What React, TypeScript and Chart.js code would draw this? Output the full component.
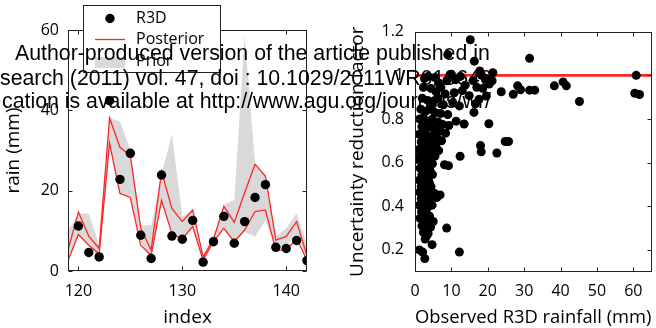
import React, { useEffect, useRef } from 'react';
import { Chart, registerables } from 'chart.js';
Chart.register(...registerables);

// ---------- Left panel data ----------
const indexValues = [119, 120, 121, 122, 123, 124, 125, 126, 127, 128, 129, 130, 131, 132, 133, 134, 135, 136, 137, 138, 139, 140, 141, 142];
const priorUpper = [10, 14.3, 14.3, 6.5, 38.1, 37.2, 30.1, 11.4, 11.4, 24, 34, 13.5, 15.2, 4, 8.6, 16.5, 17.7, 58.6, 26.8, 24, 8.6, 10.6, 14.4, 6.5];
const priorLower = [3.1, 9.3, 6.4, 3.1, 31.8, 19.5, 18.5, 7.2, 3.1, 17.6, 9.7, 8, 10.5, 3, 7.7, 10.6, 7.3, 9.7, 8.5, 12.6, 5.6, 6.5, 9, 3.1];
const posteriorUpper = [5.2, 14.7, 8.7, 5.6, 38.1, 30.8, 28.7, 10.6, 5.2, 24.7, 15.6, 12.3, 15.2, 3.5, 7.9, 16.1, 12.1, 19.5, 26.6, 23.6, 7.7, 8.6, 12.3, 3.8];
const posteriorLower = [2.6, 9.1, 6.4, 4.3, 31.8, 19.3, 18.3, 6.4, 3.9, 17.6, 9.3, 8.0, 11.1, 2.7, 7.3, 10.6, 7.3, 10.2, 14.8, 15.2, 5.2, 5.2, 8.1, 2.7];
const r3dIndex = [120, 121, 122, 123, 124, 125, 126, 127, 128, 129, 130, 131, 132, 133, 134, 135, 136, 137, 138, 139, 140, 141, 142];
const r3dRain = [11.2, 4.6, 3.5, 42.4, 22.8, 29.3, 8.9, 3.1, 23.9, 8.7, 7.9, 12.6, 2.2, 7.3, 13.6, 6.9, 12.3, 18.3, 21.5, 5.9, 5.6, 7.6, 2.6];

const leftXTicks = [120, 130, 140];
const leftYTicks = [0, 20, 40, 60];

// ---------- Right panel data ----------
const rightXTicks = [0, 10, 20, 30, 40, 50, 60];
const rightYTicks = [0.2, 0.4, 0.6, 0.8, 1.0, 1.2];
const rightYTickLabels = ['0.2', '0.4', '0.6', '0.8', '1', '1.2'];
const referenceLevel = 1;
// [observed R3D rainfall (mm), uncertainty reduction factor]
const reductionPoints: [number, number][] = [
  [15.2, 1.163], [9.0, 1.095], [16.3, 1.065], [31.5, 1.078], [17.8, 1.02], [21.4, 1.012], [21.2, 0.975], [18.3, 1.0],
  [23.7, 0.925], [27.0, 0.913], [28.2, 0.952], [29.0, 0.934], [31.5, 0.932], [32.9, 0.932], [38.3, 0.952], [40.7, 0.97],
  [41.6, 0.952], [45.2, 0.88], [60.8, 1.0], [60.4, 0.918], [61.7, 0.912], [20.3, 0.778], [18.0, 0.678], [18.2, 0.65],
  [22.5, 0.644], [24.8, 0.697], [25.7, 0.697], [12.4, 0.629], [12.2, 0.19], [8.7, 0.30], [8.1, 0.59], [9.2, 0.586],
  [6.9, 0.452], [4.7, 0.224], [2.7, 0.16], [2.1, 0.19], [1.2, 0.2], [3.2, 0.265], [13.5, 0.777], [16.2, 0.83], [17.6, 0.89], [14.9, 0.907],
  [2.6, 0.985], [3.6, 0.995], [5.5, 0.99], [6.5, 0.965], [8.7, 0.975], [10.0, 1.005],
  [11.1, 0.98], [12.5, 0.995], [13.8, 0.955], [16.0, 0.975], [19.4, 0.985], [20.4, 0.96],
  [2.3, 0.945], [4.4, 0.94], [5.8, 0.925], [7.1, 0.945], [8.3, 0.915], [10.8, 0.92],
  [13.0, 0.93], [17.0, 0.945], [18.6, 0.94], [19.6, 0.905],
  [2.0, 0.895], [3.5, 0.885], [4.9, 0.875], [6.3, 0.895], [7.8, 0.865], [10.4, 0.875],
  [12.2, 0.86], [16.6, 0.87],
  [1.6, 0.845], [2.9, 0.835], [4.1, 0.845], [5.5, 0.83], [7.0, 0.825], [9.0, 0.82], [11.3, 0.79],
  [6.4, 0.785], [9.3, 0.77],
  [1.3, 0.8], [2.3, 0.805], [3.6, 0.79], [4.8, 0.8], [5.8, 0.76], [7.6, 0.775], [1.9, 0.765], [3.0, 0.755],
  [4.3, 0.765], [6.9, 0.745], [8.4, 0.735],
  [1.2, 0.73], [2.5, 0.725], [3.8, 0.72], [5.1, 0.73], [6.2, 0.71], [1.7, 0.695], [3.0, 0.69], [4.5, 0.695],
  [5.7, 0.68], [7.3, 0.7], [1.1, 0.66], [2.2, 0.665], [3.6, 0.655], [4.9, 0.66], [6.5, 0.655], [1.5, 0.635],
  [2.8, 0.63], [4.2, 0.625], [5.5, 0.63], [0.9, 0.615], [2.0, 0.6], [3.4, 0.6], [4.8, 0.595],
  [1.4, 0.575], [2.7, 0.57], [4.1, 0.565], [1.9, 0.545], [3.3, 0.54], [4.8, 0.545], [1.2, 0.52], [2.5, 0.515],
  [3.9, 0.51], [1.7, 0.49], [3.0, 0.485], [4.4, 0.49], [1.3, 0.465], [2.4, 0.46], [3.6, 0.455], [5.3, 0.46],
  [6.0, 0.44], [1.7, 0.435], [2.9, 0.43], [4.2, 0.425], [1.2, 0.405], [2.3, 0.4], [3.5, 0.395], [4.7, 0.405],
  [1.8, 0.375], [3.0, 0.37], [4.0, 0.355], [1.4, 0.345], [2.6, 0.34], [3.7, 0.325], [5.0, 0.33], [1.9, 0.31],
  [3.1, 0.3], [4.3, 0.305], [2.3, 0.28], [3.6, 0.275], [2.8, 0.25],
];

const legendLabels = ['R3D', 'Posterior', 'Prior'];
const watermarkLines = [
  'Author-produced version of the article published in',
  'search (2011) vol. 47, doi : 10.1029/2011WR010640',
  'cation is available at http://www.agu.org/journals/wr/',
];

const FONT = "'Open Sans', 'Noto Sans', sans-serif";
const GRAY = '#d9d9d9';
const RED = '#ff2626';

const framePlugin = {
  id: 'frame',
  afterDatasetsDraw(chart: any) {
    const { ctx, chartArea } = chart;
    const l = Math.round(chartArea.left) + 0.5;
    const r = Math.round(chartArea.right) - 0.5;
    const t = Math.round(chartArea.top) + 0.5;
    const b = Math.round(chartArea.bottom) - 0.5;
    const tl = 4;
    ctx.save();
    ctx.strokeStyle = '#222';
    ctx.lineWidth = 1;
    ctx.strokeRect(l, t, r - l, b - t);
    ctx.beginPath();
    const xs = chart.scales.x;
    const ys = chart.scales.y;
    xs.ticks.forEach((tk: any) => {
      const px = Math.round(xs.getPixelForValue(tk.value)) + 0.5;
      ctx.moveTo(px, b); ctx.lineTo(px, b - tl);
      ctx.moveTo(px, t); ctx.lineTo(px, t + tl);
    });
    ys.ticks.forEach((tk: any) => {
      const py = Math.round(ys.getPixelForValue(tk.value)) + 0.5;
      ctx.moveTo(l, py); ctx.lineTo(l + tl, py);
      ctx.moveTo(r, py); ctx.lineTo(r - tl, py);
    });
    ctx.stroke();
    ctx.restore();
  },
};

const legendPlugin = {
  id: 'customLegend',
  afterDraw(chart: any) {
    const { ctx } = chart;
    ctx.save();
    ctx.fillStyle = '#fff';
    ctx.fillRect(83.5, 5.5, 137, 67);
    ctx.strokeStyle = '#222';
    ctx.lineWidth = 1;
    ctx.strokeRect(83.5, 5.5, 137, 67);
    ctx.fillStyle = '#000';
    ctx.beginPath();
    ctx.arc(110, 18.5, 4.7, 0, Math.PI * 2);
    ctx.fill();
    ctx.strokeStyle = RED;
    ctx.lineWidth = 1.3;
    ctx.beginPath();
    ctx.moveTo(95, 39.5); ctx.lineTo(125, 39.5);
    ctx.stroke();
    ctx.fillStyle = GRAY;
    ctx.fillRect(95, 57, 30, 11);
    ctx.fillStyle = '#000';
    ctx.font = `16px ${FONT}`;
    ctx.textBaseline = 'middle';
    ctx.textAlign = 'left';
    ctx.fillText(legendLabels[0], 136, 18.5);
    ctx.fillText(legendLabels[1], 136, 39.5);
    ctx.fillText(legendLabels[2], 136, 61.5);
    ctx.restore();
  },
};

function makeLeft(canvas: HTMLCanvasElement) {
  const pts = (ys: number[]) => indexValues.map((x, i) => ({ x, y: ys[i] }));
  return new Chart(canvas, {
    type: 'line',
    data: {
      datasets: [
        { label: 'Prior', data: pts(priorUpper), borderWidth: 0, pointRadius: 0, fill: '+1', backgroundColor: GRAY, borderColor: GRAY, order: 3 },
        { label: 'Prior lower', data: pts(priorLower), borderWidth: 0, pointRadius: 0, fill: false, borderColor: GRAY, order: 3 },
        { label: 'Posterior', data: pts(posteriorUpper), borderWidth: 1.3, pointRadius: 0, borderColor: RED, fill: false, order: 2 },
        { label: 'Posterior lower', data: pts(posteriorLower), borderWidth: 1.3, pointRadius: 0, borderColor: RED, fill: false, order: 2 },
        {
          label: 'R3D', data: r3dIndex.map((x, i) => ({ x, y: r3dRain[i] })), showLine: false,
          pointRadius: 4.7, pointBackgroundColor: '#000', pointBorderWidth: 0, borderColor: '#000', order: 1,
        },
      ],
    },
    options: {
      animation: false,
      responsive: false,
      events: [],
      layout: { padding: { top: 30, right: 21, left: 0, bottom: 0 } },
      plugins: { legend: { display: false }, tooltip: { enabled: false } },
      scales: {
        x: {
          type: 'linear', min: 119, max: 142,
          afterBuildTicks: (s: any) => { s.ticks = leftXTicks.map((v) => ({ value: v })); },
          afterFit: (s: any) => { s.height = 57; },
          grid: { display: false, drawTicks: false },
          border: { display: false },
          ticks: { padding: 11, color: '#000', font: { family: FONT, size: 16 } },
          title: { display: true, text: 'index', color: '#000', font: { family: FONT, size: 19, lineHeight: 1.05 }, padding: { top: 0, bottom: 0 } },
        },
        y: {
          type: 'linear', min: 0, max: 60,
          afterBuildTicks: (s: any) => { s.ticks = leftYTicks.map((v) => ({ value: v })); },
          afterFit: (s: any) => { s.width = 68; },
          grid: { display: false, drawTicks: false },
          border: { display: false },
          ticks: { padding: 9, color: '#000', font: { family: FONT, size: 16 } },
          title: { display: true, text: 'rain (mm)', color: '#000', font: { family: FONT, size: 19, lineHeight: 1.05 }, padding: { top: 4, bottom: 0 } },
        },
      },
    },
    plugins: [framePlugin, legendPlugin],
  } as any);
}

function makeRight(canvas: HTMLCanvasElement) {
  return new Chart(canvas, {
    type: 'scatter',
    data: {
      datasets: [
        {
          label: 'R3D', data: reductionPoints.map(([x, y]) => ({ x, y })),
          pointRadius: 4.5, pointBackgroundColor: '#000', pointBorderWidth: 0, borderColor: '#000', order: 1,
        },
        {
          label: 'reference', type: 'line', data: [{ x: 0, y: referenceLevel }, { x: 65, y: referenceLevel }],
          borderColor: RED, borderWidth: 2.8, pointRadius: 0, fill: false, order: 2,
        },
      ],
    },
    options: {
      animation: false,
      responsive: false,
      events: [],
      layout: { padding: { top: 31.7, right: 1, left: 0, bottom: 0 } },
      plugins: { legend: { display: false }, tooltip: { enabled: false } },
      scales: {
        x: {
          type: 'linear', min: 0, max: 65,
          afterBuildTicks: (s: any) => { s.ticks = rightXTicks.map((v) => ({ value: v })); },
          afterFit: (s: any) => { s.height = 56.3; },
          grid: { display: false, drawTicks: false },
          border: { display: false },
          ticks: { padding: 10.4, color: '#000', font: { family: FONT, size: 16 } },
          title: { display: true, text: 'Observed R3D rainfall (mm)', color: '#000', font: { family: FONT, size: 19, lineHeight: 1.05 }, padding: { top: 0, bottom: 0 } },
        },
        y: {
          type: 'linear', min: 0.1, max: 1.2,
          afterBuildTicks: (s: any) => { s.ticks = rightYTicks.map((v) => ({ value: v })); },
          afterFit: (s: any) => { s.width = 87; },
          grid: { display: false, drawTicks: false },
          border: { display: false },
          ticks: {
            padding: 11, color: '#000', font: { family: FONT, size: 16 },
            callback: (v: any) => {
              const i = rightYTicks.findIndex((t) => Math.abs(t - v) < 1e-6);
              return i >= 0 ? rightYTickLabels[i] : '';
            },
          },
          title: { display: true, text: 'Uncertainty reduction factor', color: '#000', font: { family: FONT, size: 19, lineHeight: 1.05 }, padding: { top: 20, bottom: 0 } },
        },
      },
    },
    plugins: [framePlugin],
  } as any);
}

export default function App() {
  const leftRef = useRef<HTMLCanvasElement>(null);
  const rightRef = useRef<HTMLCanvasElement>(null);
  useEffect(() => {
    const a = makeLeft(leftRef.current!);
    const b = makeRight(rightRef.current!);
    return () => { a.destroy(); b.destroy(); };
  }, []);
  const wm: React.CSSProperties = {
    position: 'absolute', fontFamily: "'Liberation Sans', Arial, sans-serif", fontSize: '21.3px',
    lineHeight: '20px', color: '#000', whiteSpace: 'nowrap', pointerEvents: 'none',
  };
  return (
    <div style={{ position: 'fixed', left: 0, top: 0, width: 656, height: 328, background: '#fff', overflow: 'hidden' }}>
      <canvas ref={leftRef} width={328} height={328} style={{ position: 'absolute', left: 0, top: 0, width: 328, height: 328 }} />
      <canvas ref={rightRef} width={328} height={328} style={{ position: 'absolute', left: 328, top: 0, width: 328, height: 328 }} />
      <div style={{ ...wm, left: 15, top: 43 }}>{watermarkLines[0]}</div>
      <div style={{ ...wm, left: 0, top: 67.5 }}>{watermarkLines[1]}</div>
      <div style={{ ...wm, left: 2, top: 91 }}>{watermarkLines[2]}</div>
    </div>
  );
}
